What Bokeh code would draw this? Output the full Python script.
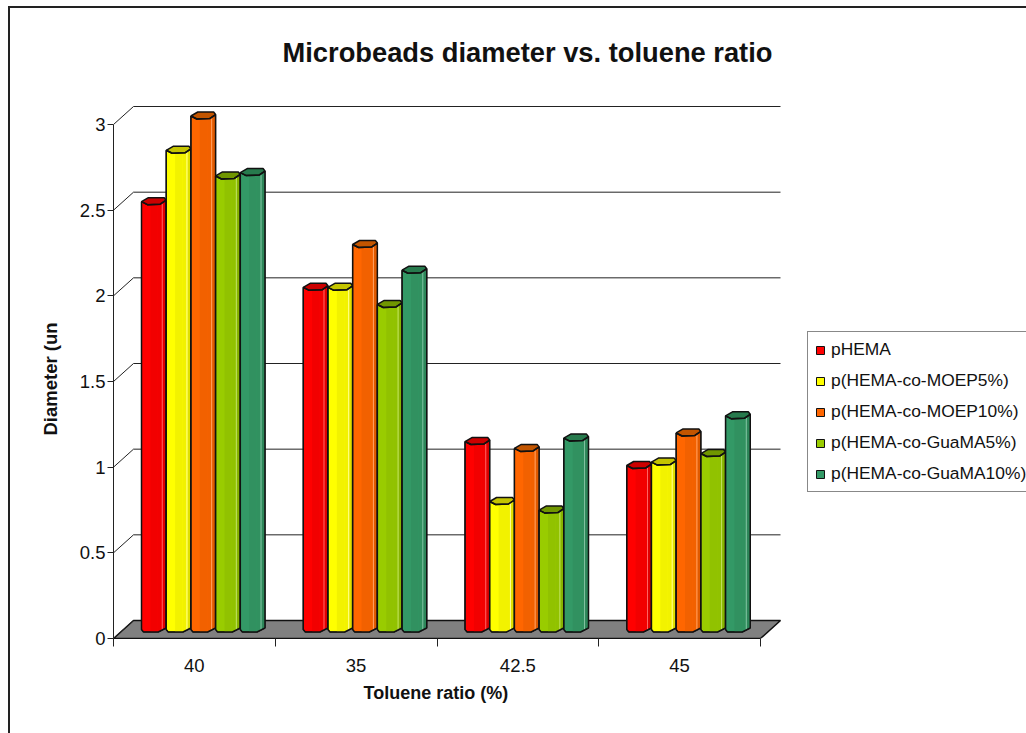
import numpy as np
from bokeh.plotting import figure
from bokeh.embed import file_html
from bokeh.resources import INLINE
from bokeh.models import (Range1d, FixedTicker, Legend, LegendItem, Title)

title_text = "Microbeads diameter vs. toluene ratio"
x_title = "Toluene ratio (%)"
y_title = "Diameter (un"
categories = ["40", "35", "42.5", "45"]
y_ticks = [0, 0.5, 1, 1.5, 2, 2.5, 3]
y_tick_labels = {0: "0", 0.5: "0.5", 1: "1", 1.5: "1.5", 2: "2", 2.5: "2.5", 3: "3"}
series_names = ["pHEMA", "p(HEMA-co-MOEP5%)", "p(HEMA-co-MOEP10%)",
                "p(HEMA-co-GuaMA5%)", "p(HEMA-co-GuaMA10%)"]
pHEMA = [2.5, 2.0, 1.1, 0.96]
moep5 = [2.8, 2.0, 0.75, 0.98]
moep10 = [3.0, 2.25, 1.06, 1.15]
guama5 = [2.65, 1.9, 0.7, 1.03]
guama10 = [2.67, 2.1, 1.12, 1.25]
series_values = [pHEMA, moep5, moep10, guama5, guama10]

base_colors = ["#ff0000", "#ffff00", "#ff6600", "#99cc00", "#339966"]
dim_colors = ["#f20000", "#f2f200", "#f26100", "#91c200", "#319160"]
dark_colors = ["#e00000", "#e0e000", "#e05a00", "#86b300", "#2d8659"]
light_colors = ["#ff6666", "#ffff99", "#ffa366", "#c2e066", "#85c2a3"]
cap_colors = ["#cc0000", "#c4c400", "#c25500", "#709600", "#277a4d"]

W, H = 1026, 733
AX_L, AX_B = 113, 638
PX_X = 161.75   # pixels per category
PX_Y = 171.33   # pixels per unit
FRAME_T = 80
DX, DY = 20, 18  # wall depth in pixels
sx = lambda px: px / PX_X
sy = lambda px: px / PX_Y

p = figure(width=W, height=H, output_backend="svg", toolbar_location=None,
           x_range=Range1d(0, (W - AX_L) / PX_X), y_range=Range1d(0, (AX_B - FRAME_T) / PX_Y),
           min_border_left=AX_L, min_border_right=0, min_border_top=FRAME_T,
           min_border_bottom=H - AX_B, outline_line_color=None,
           background_fill_color=None, border_fill_color=None)
# outer chart border: only its top and left edges fall inside the page
p.styles = {"background":
            "linear-gradient(#222,#222) 8px 6px/1100px 2px no-repeat,"
            "linear-gradient(#222,#222) 8px 6px/2px 800px no-repeat,"
            "white"}
p.grid.visible = False

FONT = "Liberation Sans"
xa = p.xaxis[0]
ya = p.yaxis[0]
xa.bounds = (0, 4)
ya.bounds = (0, 3)
xa.ticker = FixedTicker(ticks=[i + 0.5 for i in range(4)], minor_ticks=list(range(5)))
xa.major_label_overrides = {i + 0.5: c for i, c in enumerate(categories)}
xa.major_tick_line_color = None
xa.minor_tick_in = 0
xa.minor_tick_out = 8
xa.minor_tick_line_color = "#222222"
xa.axis_line_color = "#111111"
xa.major_label_text_font = FONT
xa.major_label_text_font_size = "18.5px"
xa.major_label_text_color = "#111111"
xa.major_label_standoff = 12
ya.ticker = FixedTicker(ticks=y_ticks)
ya.major_label_overrides = y_tick_labels
ya.major_tick_in = 0
ya.major_tick_out = 6
ya.minor_tick_line_color = None
ya.axis_line_color = "#222222"
ya.major_tick_line_color = "#222222"
ya.major_label_text_font = FONT
ya.major_label_text_font_size = "18.5px"
ya.major_label_text_color = "#111111"
ya.major_label_standoff = 2

p.add_layout(Title(text=x_title, align="left", offset=363 - AX_L, standoff=12, text_font=FONT,
                   text_font_size="18px", text_font_style="bold", text_color="#111111"), "below")
p.add_layout(Title(text=y_title, align="left", offset=AX_B - 435, standoff=32, text_font=FONT,
                   text_font_size="18.5px", text_font_style="bold", text_color="#111111"), "left")

p.title.text = title_text
p.title.text_font = FONT
p.title.text_font_size = "27.3px"
p.title.text_font_style = "bold"
p.title.text_color = "#111111"
p.title.align = "left"
p.title.offset = 282 - AX_L
p.title.standoff = 25

# floor
p.patch([0, 4, 4 + sx(DX), sx(DX)], [0, 0, sy(DY), sy(DY)], fill_color="#808080",
        line_color="#111111", line_width=1.5)
# back wall lines and side depth lines
p.segment(x0=[sx(DX)] * len(y_ticks[1:]), x1=[4 + sx(DX)] * len(y_ticks[1:]),
          y0=[v + sy(DY) for v in y_ticks[1:]], y1=[v + sy(DY) for v in y_ticks[1:]],
          line_color="#222222", line_width=1)
p.segment(x0=[0] * len(y_ticks), x1=[sx(DX)] * len(y_ticks),
          y0=y_ticks, y1=[v + sy(DY) for v in y_ticks], line_color="#222222", line_width=1)

# cylinder bars
BAR = 24.7
FIRST_L = 141 - AX_L
CY_OFF = 9.0     # cap centre above the value's front line, pixels
BASE_OFF = 9.5   # base centre above the floor's front line, pixels
FRONT_X = [0, 6, 19, 25]
FRONT_Y = [0.5, 3.5, 3.0, -1]
BACK_X = [25, 23, 7, 0]
BACK_Y = [-1, -3.5, -3.5, 0.5]
BOT_X = [0, 2, 17, 25]
BOT_Y = [0.5, 3, 3, -1]
STRIPES = [(0.0, 0.36, 0), (0.36, 0.66, 1), (0.66, 0.82, 1), (0.82, 0.86, 3), (0.86, 1.0, 2)]

legend_items = []
for s, vals in enumerate(series_values):
    body_x, body_y, cap_x, cap_y, out_x, out_y = [], [], [], [], [], []
    st = {k: ([], []) for k in range(4)}
    for g, v in enumerate(vals):
        xl = g + sx(FIRST_L + s * BAR)
        top_c = v + sy(CY_OFF)
        base_c = sy(BASE_OFF)
        scale = BAR / 25
        fx = [xl + sx(a * scale) for a in FRONT_X]
        fy = [top_c - sy(b) for b in FRONT_Y]
        bx = [xl + sx(a * scale) for a in BOT_X]
        by = [base_c - sy(b) for b in BOT_Y]
        body_x.append(fx + bx[::-1])
        body_y.append(fy + by[::-1])
        for a, b, k in STRIPES:
            xa0, xa1 = xl + sx(a * BAR), xl + sx(b * BAR)
            st[k][0].append([xa0, xa1, xa1, xa0])
            st[k][1].append([float(np.interp(xa0, fx, fy)), float(np.interp(xa1, fx, fy)),
                             float(np.interp(xa1, bx, by)), float(np.interp(xa0, bx, by))])
        cx = fx + [xl + sx(a * scale) for a in BACK_X]
        cy = fy + [top_c - sy(b) for b in BACK_Y]
        cap_x.append(cx)
        cap_y.append(cy)
        out_x.append(fx + bx[::-1] + [fx[0]])
        out_y.append(fy + by[::-1] + [fy[0]])
    body = p.patches(body_x, body_y, fill_color=base_colors[s], line_color="#111111", line_width=1)
    shade = [base_colors[s], dim_colors[s], dark_colors[s], light_colors[s]]
    for k in range(1, 4):
        p.patches(st[k][0], st[k][1], fill_color=shade[k], line_color=None)
    p.patches(cap_x, cap_y, fill_color=cap_colors[s], line_color="#111111", line_width=1.5)
    p.multi_line(out_x, out_y, line_color="#111111", line_width=1.5)
    legend_items.append(LegendItem(label=series_names[s], renderers=[body]))

legend = Legend(items=legend_items, location=(807 - AX_L, AX_B - 492), orientation="vertical",
                glyph_width=10, glyph_height=10, label_standoff=6, label_height=20,
                label_text_font=FONT, label_text_font_size="17.4px", label_text_color="#111111",
                spacing=10, padding=7, margin=0, border_line_color="#111111", border_line_width=1,
                background_fill_color="white", background_fill_alpha=1)
p.add_layout(legend, "center")

open("out.html", "w").write(file_html(p, INLINE))
